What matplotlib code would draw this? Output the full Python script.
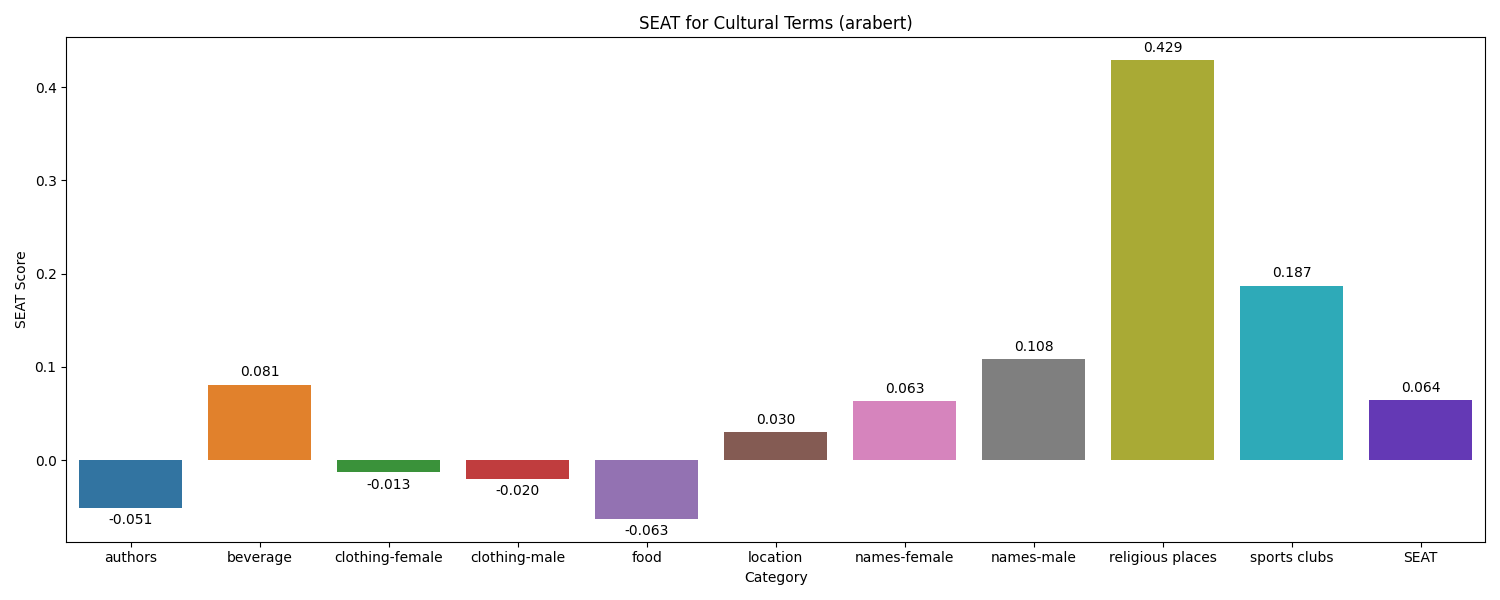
import matplotlib
matplotlib.use("Agg")
import matplotlib.pyplot as plt
import seaborn as sns

categories = ["authors", "beverage", "clothing-female", "clothing-male", "food",
              "location", "names-female", "names-male", "religious places",
              "sports clubs", "SEAT"]
scores = [-0.051, 0.081, -0.013, -0.020, -0.063, 0.030, 0.063, 0.108, 0.429, 0.187, 0.064]
colors = ["#3274a1", "#e1812c", "#3a923a", "#c03d3e", "#9372b2", "#845b53",
          "#d684bd", "#7f7f7f", "#a9aa35", "#2eaab8", "#6439b5"]

fig, ax = plt.subplots(figsize=(15, 6), dpi=100)
sns.barplot(x=categories, y=scores, hue=categories, palette=colors,
            saturation=1, legend=False, ax=ax)

for i, v in enumerate(scores):
    ax.annotate(f"{v:.3f}", xy=(i, v), xytext=(0, 4 if v >= 0 else -4),
                textcoords="offset points", ha="center",
                va="bottom" if v >= 0 else "top", fontsize=10)

ax.set_title("SEAT for Cultural Terms (arabert)", fontsize=12)
ax.set_xlabel("Category")
ax.set_ylabel("SEAT Score")
fig.tight_layout()
fig.savefig("out.png")
